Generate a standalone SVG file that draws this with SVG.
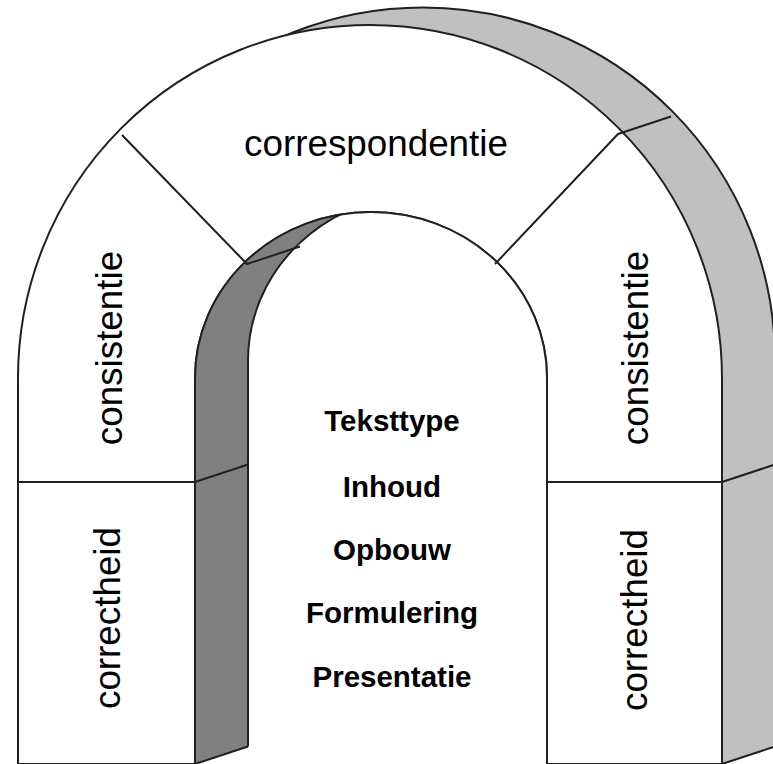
<svg xmlns="http://www.w3.org/2000/svg" width="773" height="764" viewBox="0 0 773 764">
<style>
.ln{fill:none;stroke:#231f20;stroke-width:2;stroke-linejoin:round}
.lbl{font-family:"Liberation Sans",Arial,sans-serif;font-size:36.8px;fill:#000;text-anchor:middle}
.ctr{font-family:"Liberation Sans",Arial,sans-serif;font-size:29.5px;font-weight:bold;fill:#000;text-anchor:middle}
</style>
<defs>
<clipPath id="frontOpening"><path d="M195 764V378A176 166 0 0 1 547 378V764Z"/></clipPath>
</defs>
<rect width="773" height="764" fill="#fff"/>
<g id="arch-body">
<path id="back-outer" d="M71 746.5V360.5A352 353 0 0 1 775 360.5V746.5Z" fill="#c0c0c0" stroke="#231f20" stroke-width="2"/>
<path id="right-side" d="M722 764L775 746.5V360.5L722 378Z" fill="#c0c0c0"/>
<path class="ln" d="M722 764L775 746.5"/>
<path id="front-face" d="M18 764V378A352 353 0 0 1 722 378V764Z M195 764V378A176 166 0 0 1 547 378V764Z" fill="#fff" fill-rule="evenodd" stroke="#231f20" stroke-width="2"/>
<path id="inner-side" d="M195 764V378A176 166 0 0 1 547 378V764Z" fill="#808080"/>
<g clip-path="url(#frontOpening)">
<path d="M248 770V360.5A176 166 0 0 1 600 360.5V770Z" fill="#fff"/>
<path d="M195 764L248 746.5V770H195Z" fill="#fff"/>
<path class="ln" d="M248 746.5V360.5A176 166 0 0 1 600 360.5"/>
</g>
<path class="ln" d="M195 764V378A176 166 0 0 1 547 378V764"/>
<path class="ln" d="M195 764L248 746.5"/>
</g>
<g id="dividers">
<path class="ln" d="M122 135L247 264L300 246.5"/>
<path class="ln" d="M495 264L618 134L671 116.5"/>
<path class="ln" d="M18 482H195L248 464.5"/>
<path class="ln" d="M547 482H722L775 464.5"/>
</g>
<g id="correspondentie"><text class="lbl" x="376" y="156">correspondentie</text></g>
<g id="consistentie-left"><text class="lbl" transform="translate(122 348) rotate(-90)">consistentie</text></g>
<g id="consistentie-right"><text class="lbl" transform="translate(648 348) rotate(-90)">consistentie</text></g>
<g id="correctheid-left"><text class="lbl" transform="translate(120 618) rotate(-90)">correctheid</text></g>
<g id="correctheid-right"><text class="lbl" transform="translate(647 620) rotate(-90)">correctheid</text></g>
<g id="aspects">
<text class="ctr" x="392" y="431">Teksttype</text>
<text class="ctr" x="392" y="497">Inhoud</text>
<text class="ctr" x="392" y="560">Opbouw</text>
<text class="ctr" x="392" y="623">Formulering</text>
<text class="ctr" x="392" y="687">Presentatie</text>
</g>
</svg>
